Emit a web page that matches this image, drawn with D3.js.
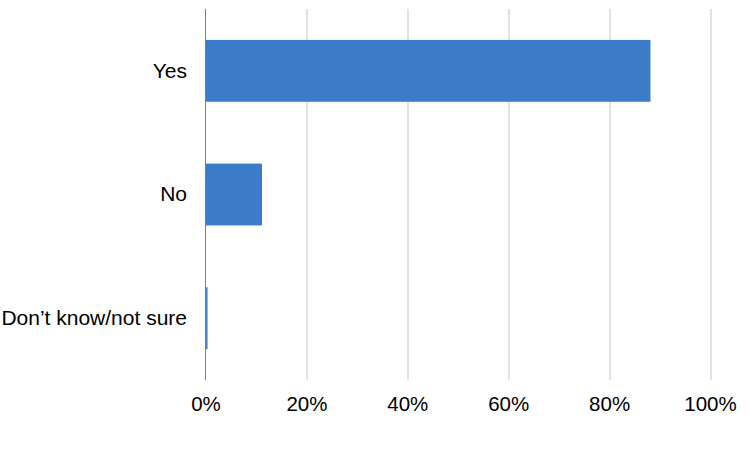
<!DOCTYPE html>
<html>
<head>
<meta charset="utf-8">
<script src="https://cdn.jsdelivr.net/npm/d3@7"></script>
<style>
  html, body { margin: 0; padding: 0; background: #fff; }
  text { font-family: "Liberation Sans", Arial, sans-serif; }
</style>
</head>
<body>
<svg id="chart" width="750" height="450"></svg>
<script>
const categories = ["Yes", "No", "Don\u2019t know/not sure"];
const values = [88.2, 11.2, 0.4];
const xTicks = [0, 20, 40, 60, 80, 100];

const svg = d3.select("#chart");
const margin = { left: 205.5, right: 40, top: 9, bottom: 70 };
const width = 710 - margin.left;
const height = 380 - margin.top;

const g = svg.append("g").attr("transform", `translate(${margin.left},${margin.top})`);

const x = d3.scaleLinear().domain([0, 100]).range([0, width]);
const y = d3.scaleBand().domain(categories).range([0, height]).paddingInner(0.5).paddingOuter(0.25);

// gridlines
g.append("g")
  .selectAll("line")
  .data(xTicks.filter(d => d > 0))
  .join("line")
  .attr("x1", d => Math.round(x(d)) + 0.5)
  .attr("x2", d => Math.round(x(d)) + 0.5)
  .attr("y1", 0)
  .attr("y2", height)
  .attr("stroke", "#c6c6c6")
  .attr("stroke-width", 1);

// bars
g.append("g")
  .selectAll("rect")
  .data(values)
  .join("rect")
  .attr("x", 0)
  .attr("y", (d, i) => y(categories[i]))
  .attr("width", d => x(d))
  .attr("height", y.bandwidth())
  .attr("fill", "#3a7cc8");

// x axis labels
const xAxis = d3.axisBottom(x).tickValues(xTicks).tickFormat(d => d + "%").tickSize(0).tickPadding(16.5);
const xg = g.append("g").attr("transform", `translate(0,${height})`).call(xAxis);
xg.select(".domain").remove();
xg.selectAll("text").attr("font-size", "20.5px").attr("fill", "#000").style("font-family", "'Liberation Sans', Arial, sans-serif");

// y axis
const yAxis = d3.axisLeft(y).tickSize(0).tickPadding(18.5);
const yg = g.append("g").call(yAxis);
yg.select(".domain").remove();
yg.selectAll("text").attr("font-size", "21px").attr("fill", "#000").style("font-family", "'Liberation Sans', Arial, sans-serif");

// zero axis line
g.append("line")
  .attr("x1", 0).attr("x2", 0)
  .attr("y1", 0).attr("y2", height)
  .attr("stroke", "#7f7f7f")
  .attr("stroke-width", 1);
</script>
</body>
</html>
